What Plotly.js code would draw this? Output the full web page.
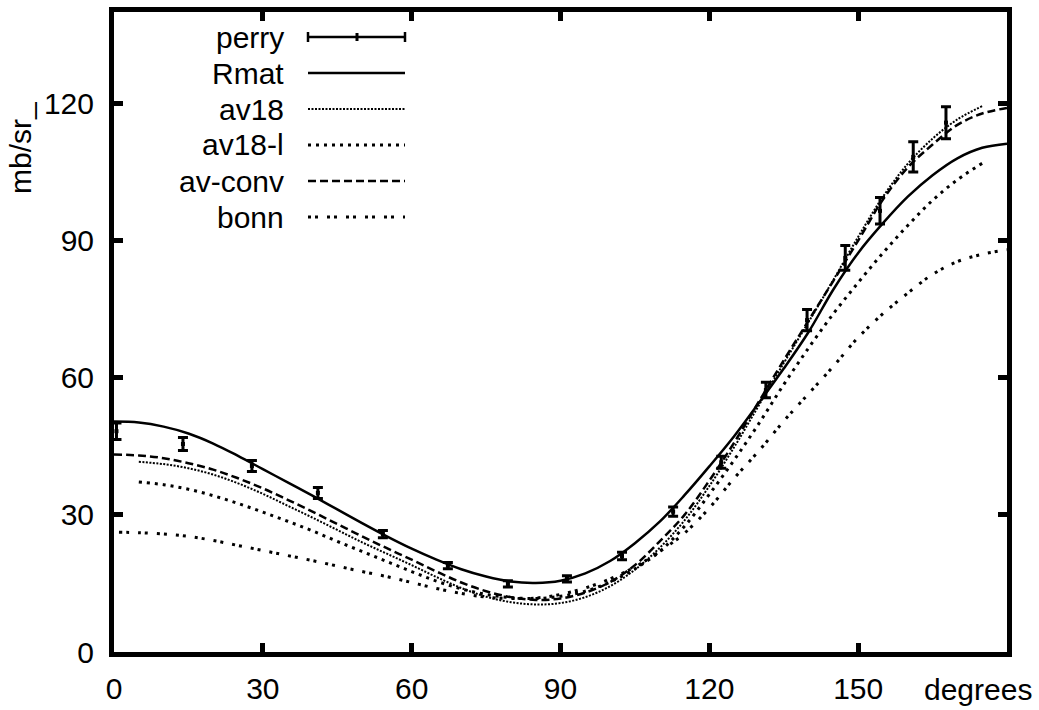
<!DOCTYPE html>
<html>
<head>
<meta charset="utf-8">
<script src="https://cdn.plot.ly/plotly-3.0.1.min.js"></script>
<style>html,body{margin:0;padding:0;background:#fff}#chart{width:1039px;height:710px}</style>
</head>
<body>
<div id="chart"></div>
<script>
// ---- data ----
const perryX   = [0.5, 13.9, 27.8, 41.1, 54.2, 67.3, 79.4, 91.3, 102.4, 112.7, 122.4, 131.4, 139.7, 147.4, 154.4, 161.1, 167.7];
const perryY   = [48.3, 45.5, 40.7, 34.8, 25.8, 18.9, 14.9, 16.0, 21.0, 30.7, 41.5, 57.3, 72.6, 86.2, 96.5, 108.3, 115.8];
const perryErr = [1.8, 1.4, 1.2, 1.2, 0.8, 0.7, 0.7, 0.7, 0.8, 1.0, 1.3, 1.7, 2.3, 2.7, 2.9, 3.3, 3.5];

const rmatX = [0,5,10,15,20,25,30,35,40,45,50,55,60,65,70,75,80,85,90,95,100,105,110,115,120,125,130,135,140,145,150,155,160,165,170,175,180];
const rmatY = [50.4,50.2,49.3,47.8,45.6,42.9,40.0,37.1,34.2,31.2,28.2,25.3,22.6,20.2,18.1,16.5,15.4,15.1,15.6,17.2,19.9,23.8,28.5,34.3,40.6,47.2,54.5,62.0,70.0,79.3,87.3,93.8,99.6,104.3,108.0,110.3,111.2];

const av18X = [5,10,15,20,25,30,35,40,45,50,55,60,65,70,75,80,85,90,95,100,105,110,115,120,125,130,135,140,145,150,155,160,165,170,175];
const av18Y = [41.6,41.1,40.2,38.8,36.9,34.6,32.0,29.4,26.7,24.0,21.5,19.0,16.4,14.0,12.1,10.9,10.4,10.7,12.0,14.4,18.0,22.8,28.8,36.3,44.8,54.0,63.2,72.2,81.4,90.8,99.6,106.8,112.3,116.5,119.4];

const av18lX = [5,10,15,20,25,30,35,40,45,50,55,60,65,70,75,80,85,90,95,100,105,110,115,120,125,130,135,140,145,150,155,160,165,170,175];
const av18lY = [37.2,36.6,35.6,34.2,32.5,30.6,28.6,26.5,24.2,22.0,19.8,17.6,15.5,13.8,12.6,11.9,11.7,12.2,13.3,15.3,18.2,22.0,27.5,34.5,42.0,50.0,58.5,66.5,74.0,80.8,87.3,93.3,98.8,103.3,106.9];

const avconvX = [0,5,10,15,20,25,30,35,40,45,50,55,60,65,70,75,80,85,90,95,100,105,110,115,120,125,130,135,140,145,150,155,160,165,170,175,180];
const avconvY = [43.2,43.0,42.4,41.3,39.9,38.0,35.8,33.3,30.7,28.0,25.3,22.7,20.2,17.6,15.2,13.3,12.0,11.4,11.7,13.0,15.3,19.0,24.2,30.0,37.5,45.8,54.8,63.8,72.5,81.2,90.0,99.0,106.0,111.0,115.3,117.8,119.0];

const bonnX = [1,5,10,15,20,25,30,35,40,45,50,55,60,65,70,75,80,85,90,95,100,105,110,115,120,125,130,135,140,145,150,155,160,165,170,175,180];
const bonnY = [26.2,26.1,25.8,25.3,24.4,23.3,22.2,21.1,20.0,18.8,17.6,16.5,15.2,13.9,12.8,12.0,11.7,11.8,12.6,14.0,16.0,18.6,22.0,26.0,31.5,38.0,44.0,50.5,56.5,62.5,68.8,74.0,78.5,82.6,85.4,87.0,88.0];

const xTickVals = [0, 30, 60, 90, 120, 150, 180];
const xTickText = ['0', '30', '60', '90', '120', '150', ''];
const yTickVals = [0, 30, 60, 90, 120];
const seriesNames = ['perry', 'Rmat', 'av18', 'av18-l', 'av-conv', 'bonn'];

// ---- layout geometry (pixels) ----
const W = 1039, H = 710;
const L = 114, R = 1007, T = 12, B = 652;
const FONT = 'Liberation Sans, Arial, sans-serif';
const FS = 30;
const px = v => (v - L) / (R - L);
const py = v => (B - v) / (B - T);

const dashStyles = {
  'Rmat':   'solid',
  'av18':   '2px,1.5px',
  'av18-l': '3px,5px',
  'av-conv':'8px,4px',
  'bonn':   '3px,4px,3px,9px'
};
const widths = {'Rmat': 2.5, 'av18': 2, 'av18-l': 3, 'av-conv': 2.5, 'bonn': 3};

function lineTrace(name, x, y) {
  return {x: x, y: y, name: name, type: 'scatter', mode: 'lines',
    line: {color: '#000', width: widths[name], dash: dashStyles[name], shape: 'spline', smoothing: 1},
    showlegend: false, hoverinfo: 'skip'};
}

const traces = [
  lineTrace('Rmat', rmatX, rmatY),
  lineTrace('av18', av18X, av18Y),
  lineTrace('av18-l', av18lX, av18lY),
  lineTrace('av-conv', avconvX, avconvY),
  lineTrace('bonn', bonnX, bonnY),
  {x: perryX, y: perryY, name: 'perry', type: 'scatter', mode: 'markers',
   marker: {color: '#000', size: 4, symbol: 'square'},
   error_y: {type: 'data', array: perryErr, visible: true, color: '#000', thickness: 3, width: 5},
   showlegend: false}
];

// ---- custom legend (text right-aligned, sample to the right) ----
const legRows = [37, 73, 109, 145, 181, 217];
const legTextRight = 286, sx0 = 308, sx1 = 405;
const annotations = [];
const shapes = [];
seriesNames.forEach((name, i) => {
  const yy = legRows[i];
  annotations.push({xref: 'paper', yref: 'paper', x: px(legTextRight), y: py(yy),
    xanchor: 'right', yanchor: 'middle', text: name, showarrow: false,
    font: {family: FONT, size: FS, color: '#000'}});
  if (name === 'perry') {
    shapes.push({type: 'line', xref: 'paper', yref: 'paper', x0: px(sx0), x1: px(sx1), y0: py(yy), y1: py(yy), line: {color: '#000', width: 2.5}});
    [sx0, sx1].forEach(xx => shapes.push({type: 'line', xref: 'paper', yref: 'paper', x0: px(xx), x1: px(xx), y0: py(yy - 5), y1: py(yy + 5), line: {color: '#000', width: 2.5}}));
    shapes.push({type: 'line', xref: 'paper', yref: 'paper', x0: px(357), x1: px(357), y0: py(yy - 4), y1: py(yy + 4), line: {color: '#000', width: 3}});
  } else {
    shapes.push({type: 'line', xref: 'paper', yref: 'paper', x0: px(sx0), x1: px(sx1), y0: py(yy), y1: py(yy),
      line: {color: '#000', width: widths[name], dash: dashStyles[name]}});
  }
});

// axis labels
annotations.push({xref: 'paper', yref: 'paper', x: px(1034), y: py(689), xanchor: 'right', yanchor: 'middle',
  text: 'degrees', showarrow: false, font: {family: FONT, size: FS, color: '#000'}});
annotations.push({xref: 'paper', yref: 'paper', x: px(20), y: py(148), xanchor: 'center', yanchor: 'middle',
  text: 'mb/sr_', textangle: -90, showarrow: false, font: {family: FONT, size: FS, color: '#000'}});

const axisCommon = {
  showgrid: false, zeroline: false, showline: true, linecolor: '#000', linewidth: 5,
  mirror: 'ticks', ticks: 'inside', ticklen: 9, tickwidth: 5, tickcolor: '#000',
  tickfont: {family: FONT, size: FS, color: '#000'}, fixedrange: true
};

const layout = {
  width: W, height: H,
  margin: {l: L, r: W - R, t: T, b: H - B, pad: 0},
  paper_bgcolor: '#fff', plot_bgcolor: '#fff',
  showlegend: false,
  xaxis: Object.assign({}, axisCommon, {range: [0, 180], tickmode: 'array', tickvals: xTickVals, ticktext: xTickText, ticklabelstandoff: 6}),
  yaxis: Object.assign({}, axisCommon, {range: [0, 140], tickmode: 'array', tickvals: yTickVals, ticktext: yTickVals.map(String), ticklabelstandoff: 9}),
  annotations: annotations,
  shapes: shapes
};

Plotly.newPlot('chart', traces, layout, {displayModeBar: false, staticPlot: true});
</script>
</body>
</html>
